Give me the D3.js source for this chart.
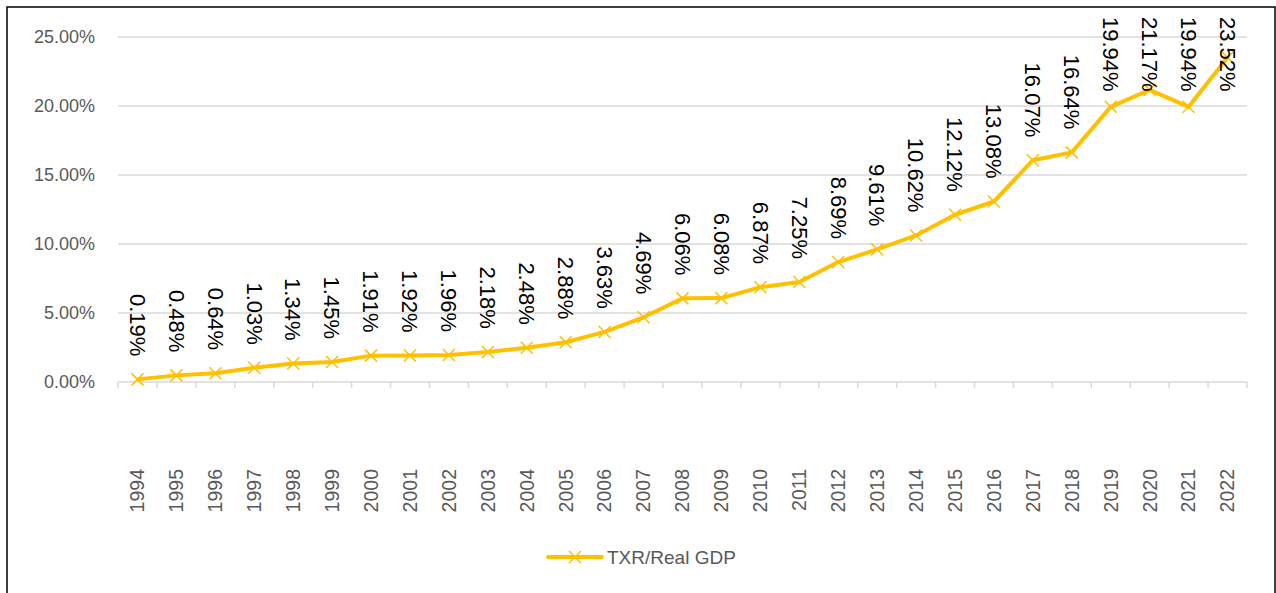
<!DOCTYPE html>
<html>
<head>
<meta charset="utf-8">
<script src="https://cdn.jsdelivr.net/npm/d3@7"></script>
<style>
  body { margin: 0; background: #fff; }
  svg { display: block; font-family: 'Liberation Sans', Arial, sans-serif; }
</style>
</head>
<body>
<svg class="lineViz" width="1276" height="593"></svg>
<script>
const years = ['1994','1995','1996','1997','1998','1999','2000','2001','2002','2003','2004','2005',
               '2006','2007','2008','2009','2010','2011','2012','2013','2014','2015','2016','2017',
               '2018','2019','2020','2021','2022'];
const txrGdp = [0.19,0.48,0.64,1.03,1.34,1.45,1.91,1.92,1.96,2.18,2.48,2.88,3.63,4.69,6.06,6.08,
                6.87,7.25,8.69,9.61,10.62,12.12,13.08,16.07,16.64,19.94,21.17,19.94,23.52];
const yTicks = [0, 5, 10, 15, 20, 25];
const seriesName = 'TXR/Real GDP';

const data = years.map((y, i) => ({year: y, value: txrGdp[i]}));

const lineColor = '#ffc000';
const gridColor = '#d9d9d9';
const textGrey = '#595959';

const svg = d3.select('svg.lineViz');

// chart frame
svg.append('rect')
   .attr('x', 7).attr('y', 7)
   .attr('width', 1268).attr('height', 620)
   .style('fill', 'none')
   .style('stroke', '#000')
   .style('stroke-width', 1.5);

const xScale = d3.scaleBand()
                 .domain(years)
                 .range([118, 1247]);

const yScale = d3.scaleLinear()
                 .domain([0, 25])
                 .range([382, 37]);

const fmt = d3.format('.2%');

// gridlines
svg.selectAll('line.grid')
   .data(yTicks.filter(d => d > 0))
   .enter()
   .append('line')
   .attr('class', 'grid')
   .attr('x1', 118).attr('x2', 1247)
   .attr('y1', d => yScale(d)).attr('y2', d => yScale(d))
   .style('stroke', gridColor)
   .style('stroke-width', 1.3);

// y labels
svg.selectAll('text.ylab')
   .data(yTicks)
   .enter()
   .append('text')
   .attr('class', 'ylab')
   .attr('x', 95)
   .attr('y', d => yScale(d))
   .attr('dy', '0.35em')
   .attr('text-anchor', 'end')
   .style('font-size', '18px')
   .style('fill', textGrey)
   .text(d => fmt(d / 100));

// x axis line and ticks
svg.append('line')
   .attr('x1', 118).attr('x2', 1247)
   .attr('y1', yScale(0)).attr('y2', yScale(0))
   .style('stroke', gridColor)
   .style('stroke-width', 1.5);

const tickPos = years.map(y => xScale(y)).concat([xScale.range()[1]]);
svg.selectAll('line.xtick')
   .data(tickPos)
   .enter()
   .append('line')
   .attr('class', 'xtick')
   .attr('x1', d => d).attr('x2', d => d)
   .attr('y1', yScale(0)).attr('y2', yScale(0) + 6)
   .style('stroke', gridColor)
   .style('stroke-width', 1.5);

// x labels
svg.selectAll('text.xlab')
   .data(years)
   .enter()
   .append('text')
   .attr('class', 'xlab')
   .attr('transform', d => `translate(${xScale(d) + xScale.bandwidth() / 2}, 469) rotate(-90)`)
   .attr('text-anchor', 'end')
   .attr('dy', '0.35em')
   .style('font-size', '19.5px')
   .style('fill', textGrey)
   .text(d => d);

// line
const lineGen = d3.line()
                  .x(d => xScale(d.year) + xScale.bandwidth() / 2)
                  .y(d => yScale(d.value));

svg.append('path')
   .datum(data)
   .attr('d', lineGen)
   .style('fill', 'none')
   .style('stroke', lineColor)
   .style('stroke-width', 4)
   .style('stroke-linejoin', 'round');

const xMark = 'M-6,-6L6,6M-6,6L6,-6';
svg.selectAll('path.mark')
   .data(data)
   .enter()
   .append('path')
   .attr('class', 'mark')
   .attr('transform', d => `translate(${xScale(d.year) + xScale.bandwidth() / 2}, ${yScale(d.value)})`)
   .attr('d', xMark)
   .style('stroke', lineColor)
   .style('stroke-width', 1.5)
   .style('fill', 'none');

// data labels, rotated, sitting above each point
const labels = svg.selectAll('text.dlab')
   .data(data)
   .enter()
   .append('text')
   .attr('class', 'dlab')
   .attr('dy', '0.35em')
   .style('font-size', '22px')
   .style('fill', '#000')
   .text(d => fmt(d.value / 100));

labels.each(function(d) {
  const len = this.getComputedTextLength();
  const start = Math.max(17, yScale(d.value) - 23 - len);
  const cx = xScale(d.year) + xScale.bandwidth() / 2;
  d3.select(this).attr('transform', `translate(${cx}, ${start}) rotate(90)`);
});

// legend
const legY = 557;
svg.append('line')
   .attr('x1', 548).attr('x2', 602)
   .attr('y1', legY).attr('y2', legY)
   .style('stroke', lineColor)
   .style('stroke-width', 4)
   .style('stroke-linecap', 'round');
svg.append('path')
   .attr('transform', `translate(575, ${legY})`)
   .attr('d', xMark)
   .style('stroke', lineColor)
   .style('stroke-width', 1.5);
svg.append('text')
   .attr('x', 607).attr('y', legY)
   .attr('dy', '0.35em')
   .style('font-size', '19px')
   .style('fill', textGrey)
   .text(seriesName);
</script>
</body>
</html>
